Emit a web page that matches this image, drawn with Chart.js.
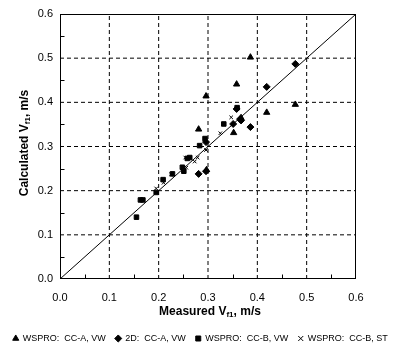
<!DOCTYPE html>
<html>
<head>
<meta charset="utf-8">
<script src="https://cdn.jsdelivr.net/npm/chart.js@4.4.0/dist/chart.umd.min.js"></script>
<style>
  html, body { margin: 0; padding: 0; background: #fff; }
</style>
</head>
<body>
<canvas id="chart" width="401" height="351"></canvas>
<script>
// measured vs calculated Vf1 (m/s)
const axisMin = 0.0;
const axisMax = 0.6;
const tickStep = 0.1;
const gridValues = [0.1, 0.2, 0.3, 0.4, 0.5];
const seriesNames = ['WSPRO:  CC-A, VW', '2D:  CC-A, VW', 'WSPRO:  CC-B, VW', 'WSPRO:  CC-B, ST'];

const wsproAX = [0.386, 0.358, 0.296, 0.477, 0.419, 0.367, 0.281, 0.352, 0.297];
const wsproAY = [0.502, 0.441, 0.414, 0.395, 0.377, 0.365, 0.339, 0.331, 0.247];

const twoDX = [0.477, 0.419, 0.358, 0.367, 0.351, 0.386, 0.296, 0.281, 0.296, 0.365];
const twoDY = [0.487, 0.435, 0.385, 0.359, 0.351, 0.344, 0.310, 0.238, 0.244, 0.362];

const wsproBX = [0.359, 0.332, 0.294, 0.283, 0.258, 0.263, 0.248, 0.251, 0.228, 0.209, 0.195, 0.163, 0.168, 0.155];
const wsproBY = [0.388, 0.351, 0.318, 0.302, 0.273, 0.275, 0.253, 0.244, 0.238, 0.225, 0.196, 0.179, 0.179, 0.140];

const wsproSTX = [0.347, 0.325, 0.296, 0.279, 0.273, 0.254, 0.256, 0.225, 0.210, 0.195];
const wsproSTY = [0.366, 0.330, 0.292, 0.275, 0.266, 0.275, 0.252, 0.237, 0.218, 0.205];

const lineX = [0, 0.6];
const lineY = [0, 0.6];

const pts = (xs, ys) => xs.map((x, i) => ({ x: x, y: ys[i] }));

const FONT = '"Liberation Sans", Arial, sans-serif';

// dashed grid lines as line datasets running along each tick value
const gridSets = [];
gridValues.forEach(v => {
  gridSets.push({ label: 'grid', data: pts([v, v], [axisMin, axisMax]) });
  gridSets.push({ label: 'grid', data: pts([axisMin, axisMax], [v, v]) });
});
gridSets.forEach(d => {
  d.showLine = true;
  d.pointRadius = 0;
  d.borderColor = '#000';
  d.borderWidth = 1;
  d.borderDash = [4, 3];
  d.order = 10;
});

// axis titles with subscript, plot box and small inner ticks
const decor = {
  id: 'decor',
  afterDraw(chart) {
    const { ctx, chartArea: a, scales } = chart;
    ctx.save();
    ctx.strokeStyle = '#000';
    ctx.fillStyle = '#000';
    ctx.lineWidth = 1;
    ctx.strokeRect(a.left + 0.5, a.top + 0.5, a.right - a.left - 1, a.bottom - a.top - 1);

    ctx.beginPath();
    for (let v = 0.05; v < axisMax; v += tickStep) {
      const px = Math.round(scales.x.getPixelForValue(v)) + 0.5;
      ctx.moveTo(px, a.bottom - 0.5);
      ctx.lineTo(px, a.bottom - 4.5);
      const py = Math.round(scales.y.getPixelForValue(v)) + 0.5;
      ctx.moveTo(a.left + 0.5, py);
      ctx.lineTo(a.left + 4.5, py);
    }
    ctx.stroke();

    const drawTitle = (pre, x, y, rot) => {
      ctx.save();
      ctx.translate(x, y);
      ctx.rotate(rot);
      ctx.fillStyle = '#000';
      ctx.textBaseline = 'middle';
      const big = 'bold 12px ' + FONT, small = 'bold 8px ' + FONT;
      ctx.font = big;
      const w1 = ctx.measureText(pre + ' V').width;
      const w3 = ctx.measureText(', m/s').width;
      ctx.font = small;
      const w2 = ctx.measureText('f1').width;
      let cx = -(w1 + w2 + w3) / 2;
      ctx.font = big;
      ctx.fillText(pre + ' V', cx, 0);
      cx += w1;
      ctx.font = small;
      ctx.fillText('f1', cx, 3);
      cx += w2;
      ctx.font = big;
      ctx.fillText(', m/s', cx, 0);
      ctx.restore();
    };
    drawTitle('Measured', 210, 312, 0);
    drawTitle('Calculated', 25, 143, -Math.PI / 2);
    ctx.restore();
  }
};

const axisOpts = (fit, pad) => ({
  type: 'linear',
  min: axisMin,
  max: axisMax,
  afterFit: fit,
  ticks: {
    stepSize: tickStep,
    padding: pad,
    color: '#000',
    font: { family: FONT, size: 11 },
    callback: v => Number(v).toFixed(1)
  },
  grid: { display: false, drawTicks: false, tickLength: 0 },
  border: { display: false }
});

new Chart(document.getElementById('chart'), {
  type: 'scatter',
  data: {
    datasets: [
      {
        label: seriesNames[0],
        data: pts(wsproAX, wsproAY),
        pointStyle: 'triangle',
        pointRadius: 3.6,
        backgroundColor: '#000',
        borderColor: '#000'
      },
      {
        label: seriesNames[1],
        data: pts(twoDX, twoDY),
        pointStyle: 'rectRot',
        pointRadius: 3.5,
        backgroundColor: '#000',
        borderColor: '#000'
      },
      {
        label: seriesNames[2],
        data: pts(wsproBX, wsproBY),
        pointStyle: 'rect',
        pointRadius: 3.2,
        backgroundColor: '#000',
        borderColor: '#000'
      },
      {
        label: seriesNames[3],
        data: pts(wsproSTX, wsproSTY),
        pointStyle: 'crossRot',
        pointRadius: 2.5,
        borderWidth: 1,
        backgroundColor: '#000',
        borderColor: '#000'
      },
      {
        label: '1:1',
        data: pts(lineX, lineY),
        showLine: true,
        pointRadius: 0,
        borderColor: '#000',
        borderWidth: 1
      },
      ...gridSets
    ]
  },
  options: {
    responsive: false,
    animation: false,
    layout: { padding: { top: 14, right: 0, bottom: -2, left: 0 } },
    plugins: {
      legend: {
        position: 'bottom',
        labels: {
          filter: item => item.text !== '1:1' && item.text !== 'grid',
          usePointStyle: true,
          boxWidth: 5,
          boxHeight: 5,
          padding: 10,
          color: '#000',
          font: { family: FONT, size: 9 }
        }
      },
      tooltip: { enabled: false }
    },
    scales: {
      x: axisOpts(s => { s.height = 45; }, 12),
      y: axisOpts(s => { s.width = 60; }, 7),
      // empty right-hand axis keeps the plot clear of the right edge
      yRight: {
        type: 'linear',
        position: 'right',
        min: axisMin,
        max: axisMax,
        afterFit: s => { s.width = 45; },
        ticks: { display: false },
        grid: { display: false },
        border: { display: false }
      }
    }
  },
  plugins: [decor]
});
</script>
</body>
</html>
